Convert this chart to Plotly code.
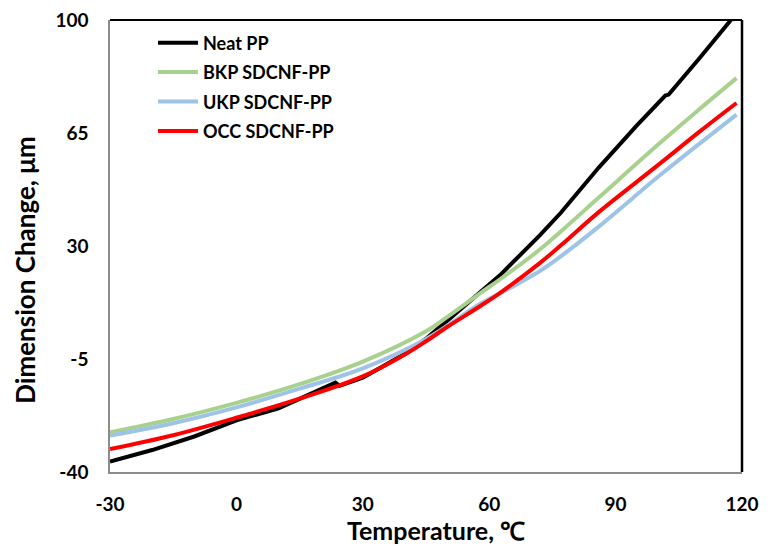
import plotly.graph_objects as go

# ---- data ----
neat_t = [-30, -20, -10, 0, 10, 20, 23.5, 24.5, 30, 40, 45, 50, 58, 62.6, 72, 77, 86, 95, 101.8, 102.6, 110, 118]
neat_y = [-36.8, -33.2, -29.0, -24.0, -20.3, -14.6, -12.3, -13.3, -10.8, -3.4, 1.3, 6.8, 15.7, 21.0, 33.3, 40.3, 54.3, 67.3, 76.6, 76.9, 88.3, 101.0]

bkp_t = [-30, -15, 0, 15, 30, 45, 50, 58, 62.6, 72, 77, 86, 100.5, 110, 118.7]
bkp_y = [-27.7, -23.6, -18.6, -12.8, -5.8, 3.6, 8.0, 15.5, 19.7, 28.9, 34.5, 45.0, 61.9, 72.5, 82.0]

ukp_t = [-30, -15, 0, 15, 30, 45, 58, 65, 72, 77, 86, 100.5, 110, 118.7]
ukp_y = [-28.7, -24.9, -20.0, -14.2, -7.9, 1.2, 12.2, 17.0, 22.2, 26.8, 36.0, 51.9, 61.8, 70.7]

occ_t = [-30, -15, 0, 15, 30, 40, 45, 50, 58, 62.6, 72, 77, 86, 100.5, 110, 118.7]
occ_y = [-32.9, -28.6, -23.2, -17.3, -10.4, -3.6, 0.5, 4.9, 11.5, 15.5, 24.7, 30.2, 40.5, 55.5, 65.5, 74.3]

names = ["Neat PP", "BKP SDCNF-PP", "UKP SDCNF-PP", "OCC SDCNF-PP"]
colors = ["#000000", "#A9D18E", "#9DC3E6", "#FF0000"]

x_ticks = [-30, 0, 30, 60, 90, 120]
y_ticks = [-40, -5, 30, 65, 100]

x_title = "Temperature, ℃"
y_title = "Dimension Change, μm"

FONT = "Lato"

fig = go.Figure()
series = [(neat_t, neat_y, "linear"), (bkp_t, bkp_y, "spline"),
          (ukp_t, ukp_y, "spline"), (occ_t, occ_y, "spline")]
for (t, y, shape), name, col in zip(series, names, colors):
    line = dict(color=col, width=4, shape=shape)
    if shape == "spline":
        line["smoothing"] = 1.0
    fig.add_trace(go.Scatter(x=t, y=y, mode="lines", name=name, legendgroup=name, line=line))

# the page body has an 8px margin, so the figure is offset by 8px
fig.update_layout(
    width=764, height=538,
    margin=dict(l=102, r=30, t=12, b=74),
    paper_bgcolor="white", plot_bgcolor="white",
    font=dict(family=FONT, color="black"),
    showlegend=True,
    legend=dict(
        x=0.068, y=0.99, xanchor="left", yanchor="top",
        bgcolor="rgba(0,0,0,0)",
        font=dict(family=FONT, size=18, color="black", weight="bold"),
        tracegroupgap=3, itemwidth=40,
    ),
    xaxis=dict(
        range=[-30, 120], tickvals=x_ticks, ticktext=[str(v) for v in x_ticks],
        showgrid=False, zeroline=False, showline=True, linecolor="#8c8c8c", linewidth=1.5,
        ticks="", ticklabelstandoff=14, automargin=False, ticklabeloverflow="allow",
        tickfont=dict(family=FONT, size=19, color="black", weight="bold"),
    ),
    xaxis2=dict(
        range=[-30, 120], overlaying="x", side="top", anchor="y",
        showgrid=False, zeroline=False, showline=True, linecolor="black", linewidth=2,
        showticklabels=False, ticks="", automargin=False,
    ),
    yaxis=dict(
        range=[-40, 100], tickvals=y_ticks, ticktext=[str(v) for v in y_ticks],
        showgrid=False, zeroline=False, showline=True, linecolor="#8c8c8c", linewidth=1.5,
        ticks="", ticklabelstandoff=16, automargin=False, ticklabeloverflow="allow",
        tickfont=dict(family=FONT, size=19, color="black", weight="bold"),
    ),
    annotations=[
        dict(text=x_title, xref="paper", yref="paper", x=0.516, y=-0.128,
             xanchor="center", yanchor="middle", showarrow=False,
             font=dict(family=FONT, size=25, color="black", weight="bold")),
        dict(text=y_title, xref="paper", yref="paper", x=-0.134, y=0.446,
             xanchor="center", yanchor="middle", showarrow=False, textangle=-90,
             font=dict(family=FONT, size=26, color="black", weight="bold")),
    ],
    shapes=[
        dict(type="line", xref="paper", yref="paper", x0=0, x1=1, y0=1, y1=1,
             line=dict(color="black", width=2)),
        dict(type="line", xref="paper", yref="paper", x0=1, x1=1, y0=0, y1=1,
             line=dict(color="black", width=2.5)),
    ],
)

fig.write_html("out.html")
